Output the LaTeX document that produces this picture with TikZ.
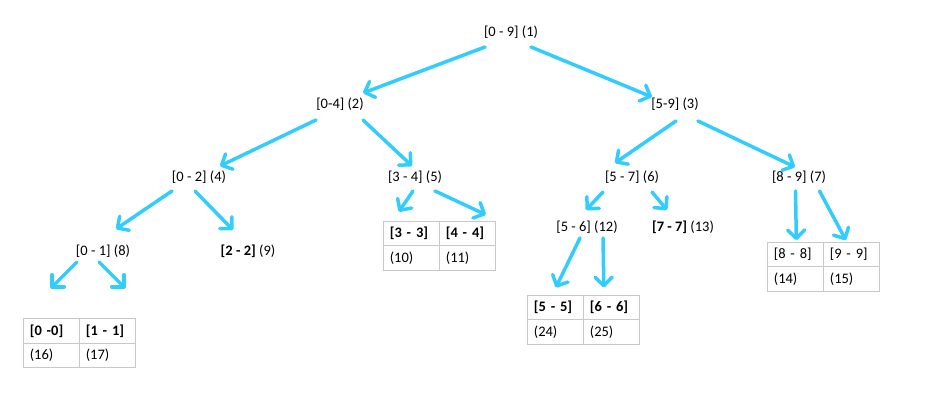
\documentclass[tikz,border=0pt]{standalone}
\usepackage{fontspec}
\setmainfont{Carlito}
\usetikzlibrary{arrows.meta}
\definecolor{arrowcyan}{RGB}{51,204,255}
\definecolor{gridgray}{RGB}{200,200,200}
\begin{document}
\begin{tikzpicture}[x=1pt,y=-1pt,
  lbl/.style={inner sep=0pt, font=\fontsize{14.5}{17}\selectfont},
  cell/.style={draw=gridgray, line width=1.1pt, minimum width=56pt, minimum height=24.5pt,
    text width=44pt, inner xsep=6pt, inner ysep=0pt, align=left, anchor=north west,
    font=\fontsize{14.5}{17}\selectfont},
  link/.style={draw=arrowcyan, line width=3.5pt, line cap=round, line join=round,
    -{Straight Barb[length=8.5pt,width=17pt,round]}}]
\useasboundingbox (0,0) rectangle (931,414);
% labels
\node[lbl] (n1) at (511,32) {[0 - 9] (1)};
\node[lbl] (n2) at (340,104) {[0-4] (2)};
\node[lbl] (n3) at (675,104) {[5-9] (3)};
\node[lbl] (n4) at (199,177) {[0 - 2] (4)};
\node[lbl] (n5) at (415,177) {[3 - 4] (5)};
\node[lbl] (n6) at (632,177) {[5 - 7] (6)};
\node[lbl] (n7) at (799,177) {[8 - 9] (7)};
\node[lbl] (n8) at (103,251) {[0 - 1] (8)};
\node[lbl] (n9) at (248,251) {\textbf{[2 - 2]} (9)};
\node[lbl] (n12) at (587,227) {[5 - 6] (12)};
\node[lbl] (n13) at (683,227) {\textbf{[7 - 7]} (13)};
% tables
\node[cell] (t1a) at (23.3,318.3) {\textbf{[0 -0]}};
\node[cell] (t1b) at (79.3,318.3) {\textbf{[1 - 1]}};
\node[cell] (t1c) at (23.3,342.8) {(16)};
\node[cell] (t1d) at (79.3,342.8) {(17)};
\node[cell] (t2a) at (383.3,220.7) {\textbf{[3 - 3]}};
\node[cell] (t2b) at (439.3,220.7) {\textbf{[4 - 4]}};
\node[cell] (t2c) at (383.3,245.2) {(10)};
\node[cell] (t2d) at (439.3,245.2) {(11)};
\node[cell] (t3a) at (527.3,294.5) {\textbf{[5 - 5]}};
\node[cell] (t3b) at (583.3,294.5) {\textbf{[6 - 6]}};
\node[cell] (t3c) at (527.3,319) {(24)};
\node[cell] (t3d) at (583.3,319) {(25)};
\node[cell] (t4a) at (767.3,241.7) {[8 - 8]};
\node[cell] (t4b) at (823.3,241.7) {[9 - 9]};
\node[cell] (t4c) at (767.3,266.2) {(14)};
\node[cell] (t4d) at (823.3,266.2) {(15)};
% free ends
\coordinate (e8a) at (51,288);
\coordinate (e8b) at (125,288);
% arrows
\draw[link] ([shift={(-26,15)}]n1.center) -- ([shift={(23,-11)}]n2.center);
\draw[link] ([shift={(20,15)}]n1.center) -- ([shift={(-23,-7)}]n3.center);
\draw[link] ([shift={(-24,16)}]n2.center) -- ([shift={(21,-11)}]n4.center);
\draw[link] ([shift={(23,16)}]n2.center) -- ([shift={(-3,-11)}]n5.center);
\draw[link] ([shift={(1,17)}]n3.center) -- ([shift={(-17,-14)}]n6.center);
\draw[link] ([shift={(23,17)}]n3.center) -- ([shift={(-4,-10)}]n7.center);
\draw[link] ([shift={(-27,14)}]n4.center) -- ([shift={(13,-22)}]n8.center);
\draw[link] ([shift={(-4,14)}]n4.center) -- ([shift={(-15,-21)}]n9.center);
\draw[link] ([shift={(-2,14)}]n5.center) -- ([shift={(-13,-9)}]t2a.north);
\draw[link] ([shift={(20,14)}]n5.center) -- ([shift={(18,-6)}]t2b.north);
\draw[link] ([shift={(-29,15)}]n6.center) -- ([shift={(-1,-17)}]n12.center);
\draw[link] ([shift={(20,15)}]n6.center) -- ([shift={(-16,-17)}]n13.center);
\draw[link] ([shift={(-3.5,14)}]n7.center) -- ([shift={(0.5,-1.5)}]t4a.north);
\draw[link] ([shift={(20.5,14)}]n7.center) -- ([shift={(-6,-1.5)}]t4b.north);
\draw[link] ([shift={(-26,11)}]n8.center) -- (e8a);
\draw[link] ([shift={(-4,11)}]n8.center) -- (e8b);
\draw[link] ([shift={(-7,11)}]n12.center) -- ([shift={(0,-7)}]t3a.north);
\draw[link] ([shift={(16,11)}]n12.center) -- ([shift={(-8,-7)}]t3b.north);
\end{tikzpicture}
\end{document}
